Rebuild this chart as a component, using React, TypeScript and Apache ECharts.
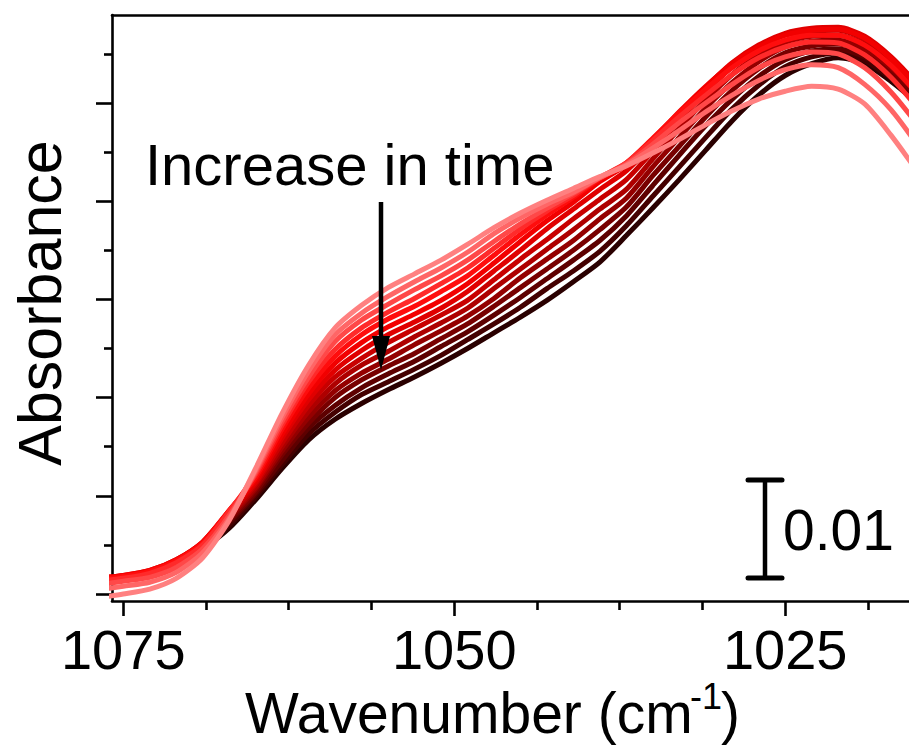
import React, { useEffect, useRef } from "react";
import * as echarts from "echarts";

// Wavenumber grid (cm^-1)
const wavenumbers = [1077, 1075, 1073, 1071, 1069, 1067, 1065, 1063, 1061, 1059, 1057, 1055, 1053, 1051, 1049, 1047, 1045, 1043, 1041, 1039, 1037, 1035, 1033, 1031, 1029, 1027, 1025, 1023, 1021, 1019, 1017, 1015];

// Absorbance spectra in mAbs (arbitrary baseline), earliest (s0) to latest (s13)
const s0 = [-0.4, 0, 0.5, 1.6, 3.7, 7.5, 12.8, 18.4, 23.3, 27.1, 29.4, 31.2, 32.6, 34.0, 35.6, 37.3, 38.8, 40.1, 41.3, 42.5, 43.6, 44.9, 46.3, 47.8, 49.2, 50.4, 51.2, 51.7, 51.4, 49.9, 46.7, 43.0];
const s1 = [0.4, 0.8, 1.2, 2.2, 4.2, 7.7, 12.6, 18.0, 22.7, 26.4, 28.6, 30.3, 31.8, 33.2, 34.8, 36.7, 38.3, 39.7, 40.9, 42.4, 43.7, 45.4, 47.2, 49.1, 50.8, 52.3, 53.4, 53.9, 53.6, 51.9, 49.3, 45.7];
const s2 = [0.9, 1.3, 1.7, 2.7, 4.6, 8.0, 12.4, 17.6, 22.1, 25.7, 27.9, 29.5, 31.0, 32.4, 34.0, 35.9, 37.7, 39.3, 40.8, 42.4, 43.8, 45.8, 48.0, 50.0, 51.9, 53.6, 54.7, 55.2, 55.0, 53.6, 51.1, 47.8];
const s3 = [1.3, 1.6, 2.1, 3.2, 5.0, 8.4, 12.2, 17.2, 21.6, 24.9, 27.1, 28.7, 30.1, 31.6, 33.2, 35.2, 37.2, 39.0, 40.6, 42.4, 43.9, 46.2, 48.6, 50.8, 52.9, 54.6, 55.7, 56.2, 56.1, 54.9, 52.6, 49.5];
const s4 = [1.5, 1.8, 2.3, 3.4, 5.2, 8.5, 11.9, 16.8, 21.0, 24.2, 26.4, 28.0, 29.3, 30.8, 32.4, 34.5, 36.6, 38.6, 40.4, 42.3, 43.9, 46.4, 49.0, 51.4, 53.6, 55.3, 56.4, 56.9, 56.9, 55.9, 53.8, 50.9];
const s5 = [1.6, 1.9, 2.4, 3.5, 5.3, 8.5, 11.7, 16.3, 20.4, 23.5, 25.6, 27.2, 28.5, 29.9, 31.6, 33.7, 35.9, 38.0, 39.9, 42.0, 43.7, 46.3, 49.1, 51.7, 54.0, 55.7, 56.9, 57.4, 57.5, 56.6, 54.5, 51.7];
const s6 = [1.6, 1.9, 2.4, 3.5, 5.3, 8.4, 11.4, 15.9, 19.8, 22.8, 24.8, 26.4, 27.7, 29.1, 30.8, 32.9, 35.0, 37.2, 39.2, 41.2, 43.1, 45.8, 48.8, 51.6, 54.1, 55.9, 57.1, 57.6, 57.7, 56.8, 54.7, 51.9];
const s7 = [1.5, 1.8, 2.3, 3.4, 5.2, 8.1, 11.2, 15.4, 19.2, 22.1, 24.0, 25.6, 27.0, 28.4, 29.9, 32.0, 34.1, 36.1, 38.2, 40.2, 42.2, 45.1, 48.2, 51.1, 53.7, 55.6, 56.9, 57.3, 57.4, 56.5, 54.4, 51.6];
const s8 = [1.4, 1.7, 2.2, 3.4, 5.1, 7.9, 10.9, 15.0, 18.6, 21.4, 23.3, 24.7, 26.2, 27.6, 29.1, 31.1, 33.1, 35.1, 37.1, 39.2, 41.2, 44.3, 47.4, 50.3, 52.9, 54.9, 56.2, 56.8, 56.9, 56.0, 54.0, 51.2];
const s9 = [1.4, 1.6, 2.2, 3.3, 5.0, 7.7, 10.7, 14.6, 18.0, 20.7, 22.5, 23.9, 25.4, 26.8, 28.3, 30.1, 32.2, 34.1, 36.0, 38.2, 40.3, 43.5, 46.5, 49.5, 52.1, 54.2, 55.7, 56.3, 56.4, 55.5, 53.6, 50.9];
const s10 = [1.3, 1.6, 2.1, 3.3, 4.9, 7.5, 10.4, 14.2, 17.4, 20.0, 21.8, 23.2, 24.5, 26.0, 27.5, 29.3, 31.2, 33.1, 35.0, 37.1, 39.4, 42.6, 45.6, 48.6, 51.3, 53.5, 55.1, 55.8, 56.0, 55.1, 53.2, 50.6];
const s11 = [1.3, 1.5, 2.1, 3.2, 4.8, 7.3, 10.2, 13.6, 16.9, 19.2, 21.0, 22.4, 23.7, 25.2, 26.7, 28.4, 30.2, 32.1, 34.0, 36.0, 38.5, 41.6, 44.7, 47.7, 50.4, 52.7, 54.4, 55.3, 55.5, 54.7, 52.9, 50.4];
const s12 = [1.2, 1.4, 2.0, 3.2, 4.7, 7.0, 9.9, 13.2, 16.3, 18.5, 20.3, 21.6, 22.9, 24.3, 25.9, 27.5, 29.2, 31.1, 32.9, 34.9, 37.5, 40.5, 43.5, 46.5, 49.4, 51.8, 53.7, 54.7, 55.1, 54.3, 52.5, 50.2];
const s13 = [1.2, 1.4, 1.9, 3.1, 4.6, 6.7, 9.6, 12.8, 15.7, 17.8, 19.4, 20.8, 22.1, 23.5, 25.0, 26.6, 28.2, 29.9, 31.8, 33.8, 36.5, 39.3, 42.2, 45.2, 48.2, 50.8, 52.8, 54.0, 54.6, 54.0, 52.2, 50.0];

const spectra = [s0, s1, s2, s3, s4, s5, s6, s7, s8, s9, s10, s11, s12, s13];
const colors = ["#ff8080", "#ff6666", "#ff4848", "#ff2a2a", "#ff0d0d", "#f20000", "#e00000", "#c80000", "#ae0000", "#940000", "#780000", "#5e0000", "#440000", "#2a0000"];

const xMajorTicks = [1075, 1050, 1025];
const xMinorTicks = [1068.75, 1062.5, 1056.25, 1043.75, 1037.5, 1031.25, 1018.75];
const yMajorTicks = [0, 10, 20, 30, 40, 50];
const yMinorTicks = [5, 15, 25, 35, 45, 55];

const FONT = "'Liberation Sans', Arial, sans-serif";

export default function App() {
  const ref = useRef<HTMLDivElement>(null);
  useEffect(() => {
    if (!ref.current) return;
    const chart = echarts.init(ref.current, null, { renderer: "svg" });
    const xMin = 1015.65;
    const xMax = 1075.85;
    const yMin = -0.71;
    const yMax = 58.96;
    const axisLineStyle = { color: "#000", width: 2.6 };
    // draw latest (dark) first so the earlier red/pink traces lie on top
    const series: any[] = spectra
      .map((s, i) => ({
        type: "line",
        name: "t" + i,
        data: wavenumbers.map((w, j) => [w, s[j]]),
        showSymbol: false,
        smooth: 0.25,
        lineStyle: { color: colors[i], width: 5 },
        xAxisIndex: 0,
        yAxisIndex: 0,
        z: 2,
      }))
      .reverse();
    chart.setOption({
      animation: false,
      backgroundColor: "#fff",
      grid: { left: 112, top: 15, width: 797, height: 586, containLabel: false },
      xAxis: [
        {
          type: "value", inverse: true, min: xMin, max: xMax, position: "bottom",
          axisLine: { show: true, onZero: false, lineStyle: axisLineStyle },
          axisTick: { show: true, customValues: xMajorTicks, length: 15, inside: false, lineStyle: { color: "#000", width: 2.6 } },
          axisLabel: { show: true, customValues: xMajorTicks, margin: 20, color: "#000", fontSize: 56, fontFamily: FONT, formatter: (v: number) => String(v) },
          splitLine: { show: false },
        },
        {
          type: "value", inverse: true, min: xMin, max: xMax, position: "bottom",
          axisLine: { show: false, onZero: false },
          axisTick: { show: true, customValues: xMinorTicks, length: 9, lineStyle: { color: "#000", width: 2.6 } },
          axisLabel: { show: false },
          splitLine: { show: false },
        },
        {
          type: "value", inverse: true, min: xMin, max: xMax, position: "top",
          axisLine: { show: true, onZero: false, lineStyle: axisLineStyle },
          axisTick: { show: false },
          axisLabel: { show: false },
          splitLine: { show: false },
        },
      ],
      yAxis: [
        {
          type: "value", min: yMin, max: yMax, position: "left",
          axisLine: { show: true, onZero: false, lineStyle: axisLineStyle },
          axisTick: { show: true, customValues: yMajorTicks, length: 16, lineStyle: { color: "#000", width: 2.6 } },
          axisLabel: { show: false },
          splitLine: { show: false },
        },
        {
          type: "value", min: yMin, max: yMax, position: "left",
          axisLine: { show: false, onZero: false },
          axisTick: { show: true, customValues: yMinorTicks, length: 8, lineStyle: { color: "#000", width: 2.6 } },
          axisLabel: { show: false },
          splitLine: { show: false },
        },
      ],
      series,
      graphic: [
        { type: "text", x: 245, y: 713, style: { text: "Wavenumber (cm", fontSize: 57, fontFamily: FONT, fill: "#000", align: "left", verticalAlign: "middle" } },
        { type: "text", x: 690, y: 696, style: { text: "-1", fontSize: 36, fontFamily: FONT, fill: "#000", align: "left", verticalAlign: "middle" } },
        { type: "text", x: 721, y: 713, style: { text: ")", fontSize: 57, fontFamily: FONT, fill: "#000", align: "left", verticalAlign: "middle" } },
        { type: "text", x: 40, y: 303, rotation: Math.PI / 2, style: { text: "Absorbance", fontSize: 61, fontFamily: FONT, fill: "#000", align: "center", verticalAlign: "middle" } },
        { type: "text", x: 145, y: 164, style: { text: "Increase in time", fontSize: 58, fontFamily: FONT, fill: "#000", align: "left", verticalAlign: "middle" }, z: 100 },
        { type: "line", shape: { x1: 381, y1: 202, x2: 381, y2: 345 }, style: { stroke: "#000", lineWidth: 4.5 }, z: 100 },
        { type: "polygon", shape: { points: [[372, 336], [390, 336], [381, 370]] }, style: { fill: "#000" }, z: 100 },
        { type: "line", shape: { x1: 765, y1: 480, x2: 765, y2: 578 }, style: { stroke: "#000", lineWidth: 4.5 }, z: 100 },
        { type: "line", shape: { x1: 748, y1: 480, x2: 782, y2: 480 }, style: { stroke: "#000", lineWidth: 5, lineCap: "round" }, z: 100 },
        { type: "line", shape: { x1: 748, y1: 578, x2: 782, y2: 578 }, style: { stroke: "#000", lineWidth: 5, lineCap: "round" }, z: 100 },
        { type: "text", x: 783, y: 530, style: { text: "0.01", fontSize: 57, fontFamily: FONT, fill: "#000", align: "left", verticalAlign: "middle" }, z: 100 },
      ],
    });
    return () => chart.dispose();
  }, []);
  return <div ref={ref} style={{ position: "fixed", left: 0, top: 0, width: 909, height: 755, background: "#fff" }} />;
}
